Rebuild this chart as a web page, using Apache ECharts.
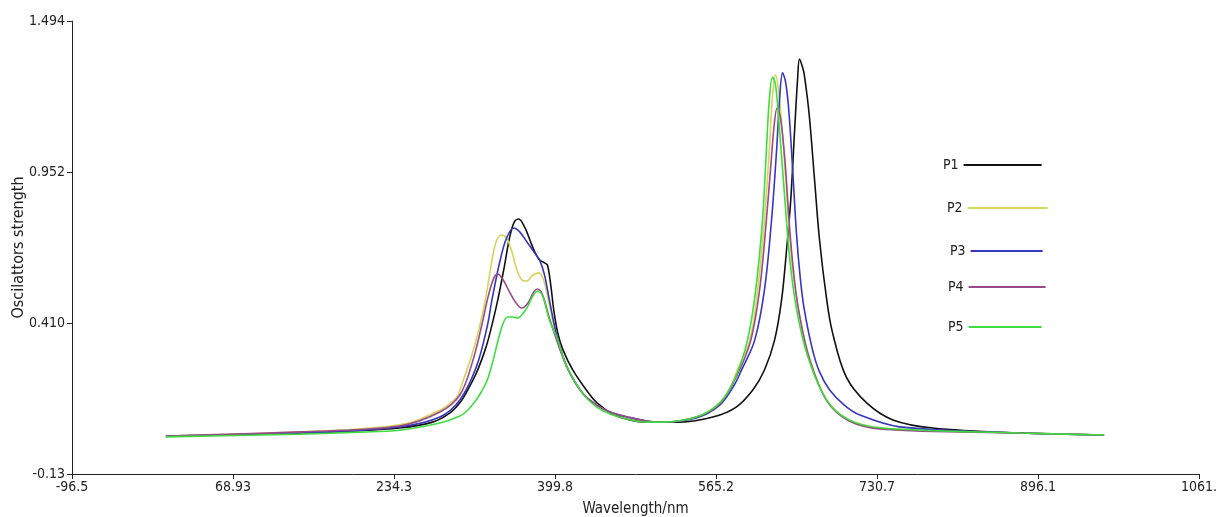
<!DOCTYPE html>
<html>
<head>
<meta charset="utf-8">
<script src="https://cdn.jsdelivr.net/npm/echarts@6/dist/echarts.min.js"></script>
<style>
html,body{margin:0;padding:0;background:#fff;}
#chart{width:1220px;height:517px;}
</style>
</head>
<body>
<div id="chart"></div>
<script>
// Tick values and labels
const xTickValues = [-96.5, 68.93, 234.3, 399.8, 565.2, 730.7, 896.1, 1061.5];
const xTickLabels = ['-96.5', '68.93', '234.3', '399.8', '565.2', '730.7', '896.1', '1061.'];
const yTickValues = [-0.13, 0.410, 0.952, 1.494];
const yTickLabels = ['-0.13', '0.410', '0.952', '1.494'];

const seriesNames = ['P1', 'P2', 'P3', 'P4', 'P5'];

// [wavelength nm, oscillator strength]
const p1 = [[0,0.006],[138,0.017],[189,0.024],[240,0.035],[274,0.056],[292,0.089],[302,0.125],[309,0.164],[319,0.232],[328,0.315],[333,0.376],[341,0.494],[348,0.619],[353,0.716],[358,0.774],[362.5,0.784],[369,0.752],[374,0.709],[379,0.666],[384,0.637],[389,0.627],[392,0.619],[395.4,0.548],[398.5,0.458],[402.6,0.376],[408,0.315],[418,0.243],[432,0.171],[443,0.125],[459,0.085],[476.5,0.064],[494,0.056],[528,0.056],[562,0.074],[586,0.110],[603,0.171],[615,0.243],[625.4,0.350],[632.6,0.494],[637.7,0.673],[642,0.852],[646,1.103],[649,1.283],[651,1.358],[654,1.330],[656,1.300],[661,1.157],[666.5,0.924],[671.6,0.709],[679,0.494],[685,0.376],[699,0.218],[720,0.125],[747,0.064],[788,0.035],[877,0.017],[964,0.010]];
const p2 = [[0,0.006],[138,0.021],[240,0.046],[281.5,0.099],[299,0.146],[302,0.171],[315,0.304],[324.6,0.433],[330,0.530],[336,0.655],[340,0.709],[345,0.727],[350,0.716],[355,0.673],[360,0.609],[365.6,0.566],[371,0.562],[376,0.580],[383,0.591],[388,0.566],[394,0.476],[401.5,0.361],[412,0.254],[428,0.160],[442.6,0.117],[459,0.089],[494,0.060],[510,0.056],[545,0.074],[569,0.125],[582,0.196],[587,0.243],[600,0.350],[608,0.530],[615,0.781],[620,1.032],[623,1.211],[626.4,1.301],[629.4,1.247],[634,1.068],[639,0.817],[644,0.600],[651,0.440],[661,0.290],[679,0.135],[702,0.064],[736,0.035],[877,0.017],[964,0.010]];
const p3 = [[0,0.006],[138,0.017],[240,0.039],[281.5,0.074],[302,0.135],[319,0.254],[330,0.397],[335,0.494],[343,0.630],[350,0.716],[357.4,0.752],[363.5,0.738],[371,0.702],[379,0.662],[384,0.637],[389,0.584],[394,0.494],[401.5,0.368],[412,0.254],[428,0.160],[442.6,0.117],[459,0.089],[494,0.060],[510,0.056],[545,0.071],[569,0.117],[584,0.189],[591.5,0.243],[605,0.350],[615,0.530],[622.3,0.781],[627.5,1.032],[630.5,1.211],[633.6,1.308],[636.7,1.276],[640,1.175],[644,0.960],[648,0.727],[652,0.566],[656,0.458],[664.4,0.315],[671.6,0.236],[682,0.171],[697,0.117],[712.7,0.082],[754,0.039],[877,0.017],[964,0.010]];
const p4 = [[0,0.006],[138,0.021],[240,0.042],[281.5,0.092],[302,0.153],[315,0.272],[324.6,0.404],[331,0.505],[337,0.573],[341,0.587],[346,0.569],[353,0.523],[359,0.487],[365.6,0.465],[372,0.483],[378,0.523],[382,0.533],[387,0.512],[394,0.429],[401.5,0.350],[412,0.254],[428,0.160],[442.6,0.117],[459,0.089],[494,0.060],[510,0.056],[545,0.074],[569,0.121],[587,0.225],[601,0.350],[610,0.530],[617,0.781],[622,0.996],[625,1.121],[628,1.182],[631.5,1.146],[636,0.996],[641,0.745],[646,0.560],[651,0.440],[661,0.286],[679,0.132],[702,0.060],[736,0.031],[877,0.017],[964,0.010]];
const p5 = [[0,0.003],[138,0.013],[200,0.020],[240,0.027],[281.5,0.053],[302,0.078],[309,0.095],[315,0.118],[322.5,0.155],[330,0.205],[336,0.275],[341,0.345],[346,0.405],[351,0.433],[356,0.433],[361.5,0.429],[366.6,0.444],[372,0.472],[377,0.508],[382,0.526],[387,0.508],[394,0.422],[401.5,0.361],[412,0.254],[428,0.160],[442.6,0.110],[459,0.082],[494,0.056],[510,0.056],[545,0.074],[569,0.125],[584,0.207],[597.6,0.350],[606,0.530],[613,0.781],[617,1.032],[620,1.211],[623.3,1.293],[626.4,1.265],[630.5,1.103],[636,0.852],[641,0.640],[648,0.460],[659,0.297],[679,0.135],[702,0.064],[736,0.035],[877,0.017],[964,0.010]];

const seriesData = [p1, p2, p3, p4, p5];
const colors = ['#111111', '#d4d45e', '#3636c0', '#9a4a8a', '#3fdc3f'];

// legend placement (custom, irregular as in the reference)
const legendPos = [
  {left: 943, top: 158, w: 78},
  {left: 947, top: 201, w: 80},
  {left: 950, top: 244, w: 72},
  {left: 948, top: 280, w: 77},
  {left: 948, top: 320, w: 73}
];

function lookup(values, labels, v) {
  let best = 0, bd = Infinity;
  values.forEach((t, i) => { const d = Math.abs(t - v); if (d < bd) { bd = d; best = i; } });
  return labels[best];
}

const font = '"DejaVu Sans Condensed", "DejaVu Sans", sans-serif';
const chart = echarts.init(document.getElementById('chart'), null, {renderer: 'canvas'});
chart.setOption({
  animation: false,
  backgroundColor: '#ffffff',
  grid: {left: 72, right: 21, top: 21, bottom: 43, containLabel: false, outerBoundsMode: 'none'},
  legend: legendPos.map((p, i) => ({
    data: [seriesNames[i]],
    left: p.left, top: p.top,
    orient: 'horizontal', align: 'right', padding: 0,
    itemWidth: p.w, itemHeight: 2, itemGap: 0,
    icon: 'rect',
    textStyle: {fontFamily: font, fontSize: 14, color: '#222', padding: [0, 0, 0, 0]},
    selectedMode: false
  })),
  xAxis: {
    type: 'value', min: -96.5, max: 1061.5,
    name: 'Wavelength/nm', nameLocation: 'middle', nameGap: 28, nameMoveOverlap: false,
    nameTextStyle: {fontFamily: font, fontSize: 15, color: '#222'},
    axisLine: {show: true, onZero: false, lineStyle: {color: '#222', width: 1}},
    axisTick: {show: true, inside: false, length: 5, lineStyle: {color: '#222'}, customValues: xTickValues},
    axisLabel: {fontFamily: font, fontSize: 14, color: '#222', margin: 6, customValues: xTickValues,
      formatter: v => lookup(xTickValues, xTickLabels, v)},
    splitLine: {show: false}
  },
  yAxis: {
    type: 'value', min: -0.13, max: 1.494,
    name: 'Oscilattors strength', nameLocation: 'middle', nameGap: 45, nameRotate: 90, nameMoveOverlap: false,
    nameTextStyle: {fontFamily: font, fontSize: 16, color: '#222'},
    axisLine: {show: true, onZero: false, lineStyle: {color: '#222', width: 1}},
    axisTick: {show: true, inside: false, length: 5, lineStyle: {color: '#222'}, customValues: yTickValues},
    axisLabel: {fontFamily: font, fontSize: 14, color: '#222', margin: 7, customValues: yTickValues,
      formatter: v => lookup(yTickValues, yTickLabels, v)},
    splitLine: {show: false}
  },
  series: seriesNames.map((n, i) => ({
    name: n, type: 'line', data: seriesData[i],
    showSymbol: false, symbol: 'none', smooth: 0.35,
    lineStyle: {color: colors[i], width: 1.6},
    itemStyle: {color: colors[i]}
  }))
});
</script>
</body>
</html>
